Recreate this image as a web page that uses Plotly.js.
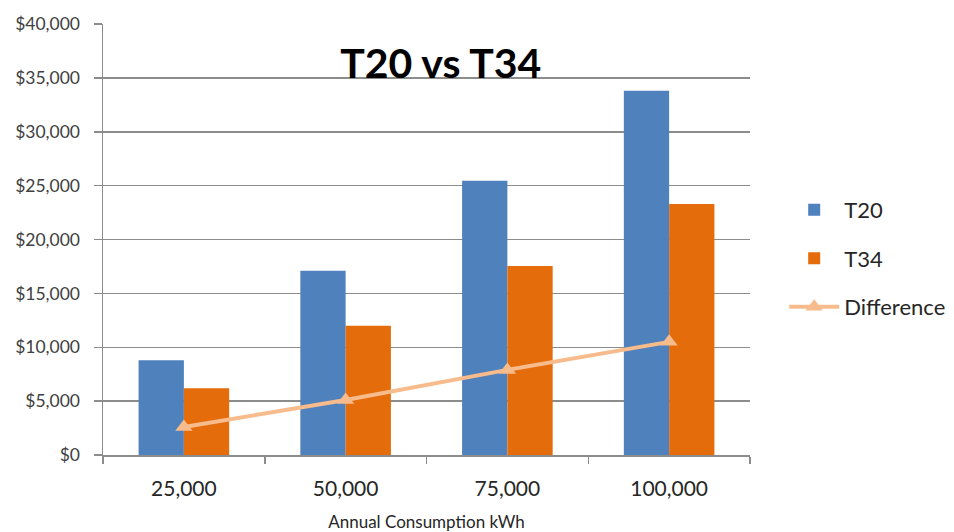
<!DOCTYPE html>
<html>
<head>
<meta charset="utf-8">
<script src="https://cdn.plot.ly/plotly-3.0.1.min.js"></script>
<style>html,body{margin:0;padding:0;background:#fff;}#chart{width:954px;height:532px;}</style>
</head>
<body>
<div id="chart"></div>
<script>
const categories = ["25,000", "50,000", "75,000", "100,000"];
const t20 = [8800, 17100, 25450, 33800];
const t34 = [6200, 12000, 17550, 23300];
const difference = [2600, 5100, 7900, 10500];
const yTicks = [0, 5000, 10000, 15000, 20000, 25000, 30000, 35000, 40000];
const yTickText = ["$0", "$5,000", "$10,000", "$15,000", "$20,000", "$25,000", "$30,000", "$35,000", "$40,000"];

const fontFam = "Lato, 'Open Sans', sans-serif";

const traces = [
  {type: "bar", name: "T20", x: categories, y: t20, marker: {color: "#4f81bd"}, legendgroup: "a"},
  {type: "bar", name: "T34", x: categories, y: t34, marker: {color: "#e46c0a"}, legendgroup: "b"},
  {type: "scatter", mode: "lines+markers", name: "Difference", x: categories, y: difference,
   line: {color: "#f8bb8c", width: 4},
   marker: {symbol: "triangle-up", size: 15, color: "#f8bb8c"}, legendgroup: "c"}
];

const layout = {
  width: 954, height: 532,
  margin: {l: 103, r: 204, t: 24, b: 77},
  paper_bgcolor: "#fff", plot_bgcolor: "#fff",
  font: {family: fontFam, color: "#262626"},
  title: {text: "<b>T20 vs T34</b>", font: {size: 41, color: "#000", family: fontFam},
          x: 0.522, xanchor: "center", y: 0.88, yanchor: "middle", xref: "paper", yref: "container"},
  barmode: "group", bargap: 0.44, bargroupgap: 0,
  showlegend: true,
  legend: {x: 0.822, xref: "container", xanchor: "left", y: 0.645, yref: "container", yanchor: "top",
           font: {size: 22, color: "#262626"},
           tracegroupgap: 17, bgcolor: "rgba(0,0,0,0)", itemwidth: 50},
  xaxis: {
    type: "category", tickson: "boundaries", ticks: "outside", ticklen: 7, tickcolor: "#8c8c8c", tickwidth: 1.5,
    showline: true, linecolor: "#8c8c8c", linewidth: 1.5, showgrid: false, automargin: false,
    tickfont: {size: 21, color: "#262626"}, ticklabelstandoff: 14,
    title: {text: "Annual Consumption kWh", font: {size: 17, color: "#262626"}, standoff: 17}
  },
  yaxis: {
    range: [0, 40000], tickvals: yTicks, ticktext: yTickText, automargin: false,
    ticks: "outside", ticklen: 8, tickcolor: "#8c8c8c", tickwidth: 1.5,
    showline: true, linecolor: "#8c8c8c", linewidth: 1.5, ticklabelstandoff: 10,
    showgrid: true, gridcolor: "#8c8c8c", gridwidth: 1.5, zeroline: false,
    tickfont: {size: 17.5, color: "#404040"}
  }
};

Plotly.newPlot("chart", traces, layout, {displayModeBar: false, staticPlot: true});
</script>
</body>
</html>
